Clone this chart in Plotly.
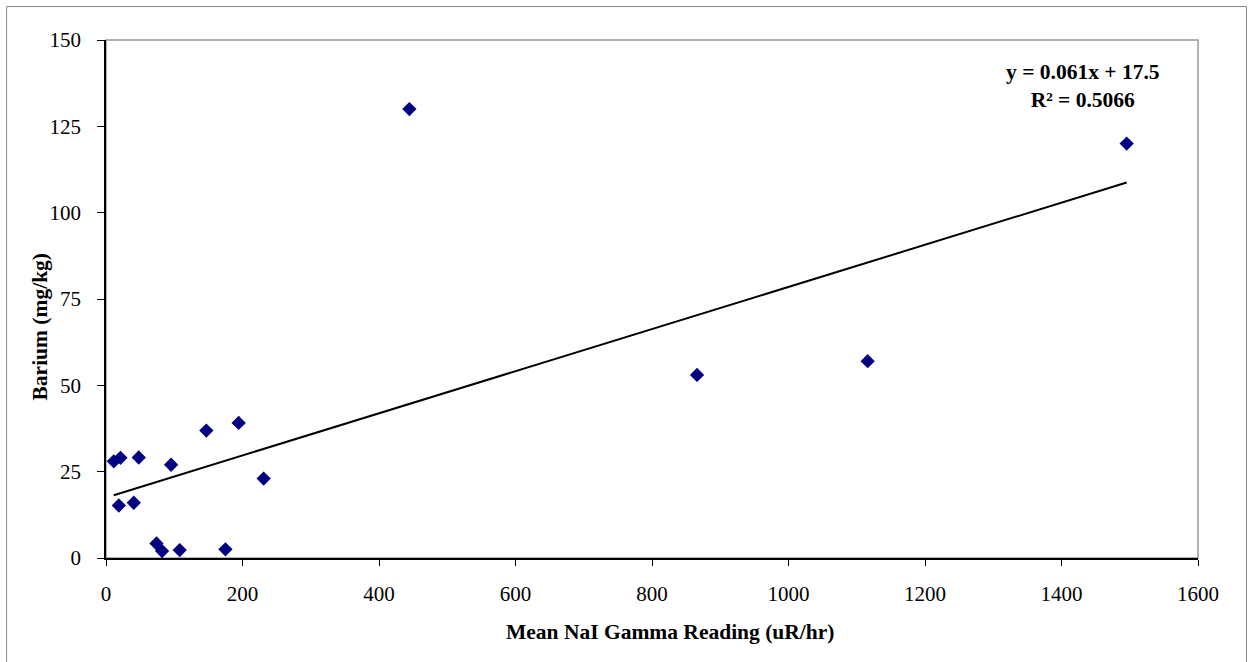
import plotly.graph_objects as go
import numpy as np

gamma = [11.4, 21.2, 48, 95.4, 147, 194.4, 231, 18.8, 40.7, 74, 82.2, 108, 175, 444.5, 866, 1116, 1495.5]
barium = [28.0, 29.0, 29.1, 27.0, 36.9, 39.1, 23.0, 15.2, 16.0, 4.2, 2.0, 2.3, 2.5, 130, 53, 57, 120]
slope = 0.061
intercept = 17.5
r2_text = "0.5066"
x_title = "Mean NaI Gamma Reading (uR/hr)"
y_title = "Barium (mg/kg)"

xs = np.array([min(gamma), max(gamma)])
ys = slope * xs + intercept

W, H = 1253, 662
L, R, T, B = 105.5, 54.5, 39.5, 103.5
pw = W - L - R
ph = H - T - B


def px_x(p):
    return (p - L) / pw


def px_y(p):
    return (H - B - p) / ph


fig = go.Figure()
fig.add_trace(go.Scatter(x=gamma, y=barium, mode="markers",
                         marker=dict(symbol="diamond", size=11, color="#000080"),
                         showlegend=False, cliponaxis=False))
fig.add_trace(go.Scatter(x=xs, y=ys, mode="lines", line=dict(color="black", width=2),
                         showlegend=False))

font = "Liberation Serif, Times New Roman, serif"
fig.update_layout(
    width=W, height=H, autosize=False,
    margin=dict(l=L, r=R, t=T, b=B, pad=0),
    paper_bgcolor="white", plot_bgcolor="white",
    font=dict(family=font, size=21, color="black"),
    xaxis=dict(range=[0, 1600], tickvals=[0, 200, 400, 600, 800, 1000, 1200, 1400, 1600],
               showgrid=False, zeroline=False, showline=True, linecolor="black", linewidth=1.5,
               ticks="outside", ticklen=6, tickcolor="black", ticklabelstandoff=10,
               tickfont=dict(size=21)),
    yaxis=dict(range=[0, 150], tickvals=[0, 25, 50, 75, 100, 125, 150],
               showgrid=False, zeroline=False, showline=True, linecolor="black", linewidth=1.5,
               ticks="outside", ticklen=7, tickcolor="black", ticklabelstandoff=12,
               tickfont=dict(size=21)),
)
# plot area gray frame
fig.add_shape(type="rect", xref="paper", yref="paper", x0=0, y0=0, x1=1, y1=1,
              line=dict(color="#999999", width=1.5), layer="below")
# outer chart border (bottom edge lies below the visible page)
fig.add_shape(type="rect", xref="paper", yref="paper",
              x0=px_x(6), x1=px_x(1247), y0=px_y(672), y1=px_y(6),
              line=dict(color="#888888", width=1))
# axis titles
fig.add_annotation(xref="paper", yref="paper", x=px_x(670.5), y=px_y(633),
                   xanchor="center", yanchor="middle", showarrow=False,
                   text=f"<b>{x_title}</b>", font=dict(size=21.5, family=font))
fig.add_annotation(xref="paper", yref="paper", x=px_x(39), y=px_y(327),
                   xanchor="center", yanchor="middle", showarrow=False, textangle=-90,
                   text=f"<b>{y_title}</b>", font=dict(size=21.5, family=font))
# trendline equation
fig.add_annotation(xref="paper", yref="paper", x=px_x(1083), y=px_y(86),
                   xanchor="center", yanchor="middle",
                   text=f"<b>y = {slope}x + {intercept}</b><br><b>R² = {r2_text}</b>",
                   showarrow=False, align="center", font=dict(size=21.5, family=font))
fig.write_html("out.html")
